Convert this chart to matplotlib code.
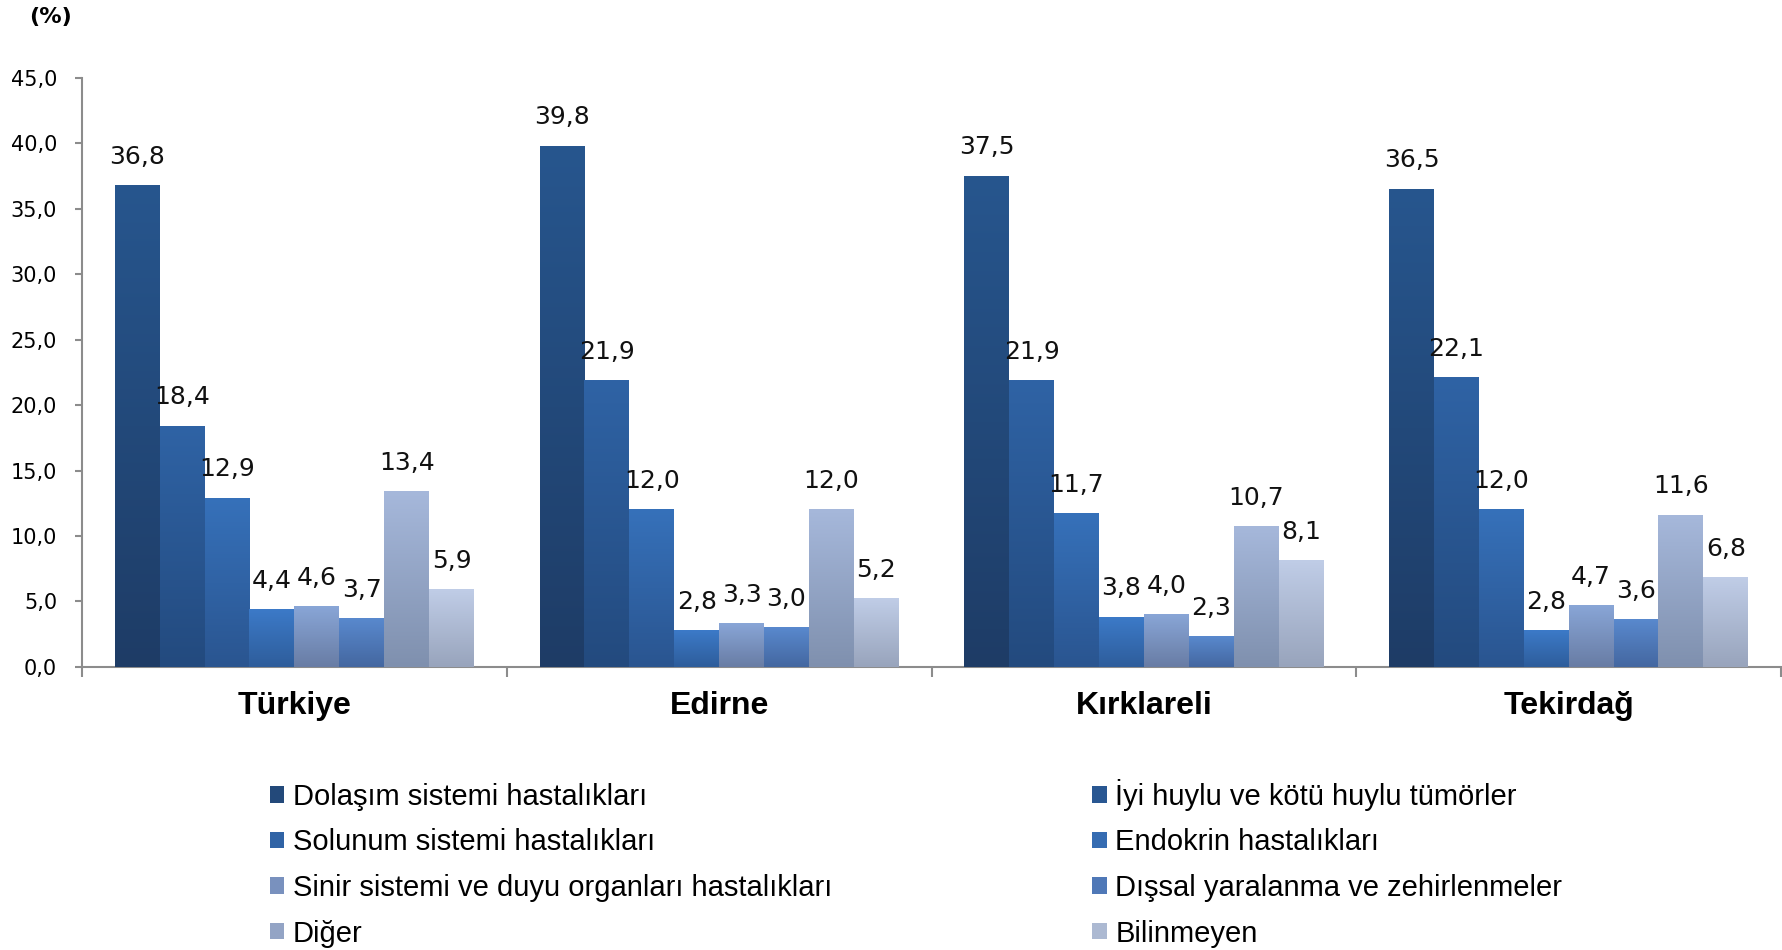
import numpy as np
import matplotlib
matplotlib.use("Agg")
import matplotlib.pyplot as plt
from matplotlib.colors import LinearSegmentedColormap
from matplotlib.ticker import FixedLocator, FuncFormatter

# data
regions = ["Türkiye", "Edirne", "Kırklareli", "Tekirdağ"]
series = [
    "Dolaşım sistemi hastalıkları",
    "İyi huylu ve kötü huylu tümörler",
    "Solunum sistemi hastalıkları",
    "Endokrin hastalıkları",
    "Sinir sistemi ve duyu organları hastalıkları",
    "Dışsal yaralanma ve zehirlenmeler",
    "Diğer",
    "Bilinmeyen",
]
dolasim = [36.8, 39.8, 37.5, 36.5]
tumor = [18.4, 21.9, 21.9, 22.1]
solunum = [12.9, 12.0, 11.7, 12.0]
endokrin = [4.4, 2.8, 3.8, 2.8]
sinir = [4.6, 3.3, 4.0, 4.7]
dissal = [3.7, 3.0, 2.3, 3.6]
diger = [13.4, 12.0, 10.7, 11.6]
bilinmeyen = [5.9, 5.2, 8.1, 6.8]
values = [dolasim, tumor, solunum, endokrin, sinir, dissal, diger, bilinmeyen]

# (bottom, top) gradient colours for each series
grad_colors = [
    ("#1e3c66", "#27568e"),
    ("#234a7e", "#2f63a5"),
    ("#2a5590", "#3671ba"),
    ("#2e5d9b", "#3c7ac8"),
    ("#687ca4", "#89a6d7"),
    ("#4467a0", "#5989ce"),
    ("#7f90ae", "#a6b8db"),
    ("#98a4bc", "#c0cde7"),
]

fig = plt.figure(figsize=(17.83, 9.5), dpi=100)
ax = fig.add_axes([0.046, 0.298, 0.9529, 0.620])

n = len(series)
w = 0.1057
x = np.arange(len(regions))
grad = np.linspace(0, 1, 256).reshape(-1, 1)

handles = []
for j, (name, vals) in enumerate(zip(series, values)):
    lo, hi = grad_colors[j]
    mid = LinearSegmentedColormap.from_list("m", [lo, hi])(0.5)
    cmap = LinearSegmentedColormap.from_list(f"g{j}", [lo, hi])
    pos = x + (j - (n - 1) / 2) * w
    bars = ax.bar(pos, vals, width=w, color=mid, zorder=2, label=name)
    handles.append(bars)
    for p, v in zip(bars.patches, vals):
        x0, wd, h = p.get_x(), p.get_width(), p.get_height()
        ax.imshow(grad, extent=[x0, x0 + wd, 0, h], origin="lower",
                  aspect="auto", cmap=cmap, zorder=3)
        ax.annotate(f"{v:.1f}".replace(".", ","), (x0 + wd / 2, h),
                    xytext=(0, 12), textcoords="offset points",
                    ha="center", va="bottom", fontsize=18,
                    family="DejaVu Sans", color="#111111")

ax.set_xlim(-0.5, len(regions) - 0.5)
ax.set_ylim(0, 45)

axis_gray = "#8c8c8c"
for s in ["top", "right"]:
    ax.spines[s].set_visible(False)
for s in ["left", "bottom"]:
    ax.spines[s].set_color(axis_gray)
    ax.spines[s].set_linewidth(1.5)

ax.set_yticks(np.arange(0, 46, 5))
ax.yaxis.set_major_formatter(FuncFormatter(lambda v, _: f"{v:.1f}".replace(".", ",")))
ax.tick_params(axis="y", length=5, width=1.5, color=axis_gray, labelsize=15, pad=13)

ax.xaxis.set_major_locator(FixedLocator(np.arange(-0.5, len(regions), 1.0)))
ax.xaxis.set_major_formatter(FuncFormatter(lambda v, _: ""))
ax.set_xticks(x, minor=True)
ax.set_xticklabels(regions, minor=True, fontsize=23, fontweight="bold",
                   family="Liberation Sans")
ax.tick_params(axis="x", which="major", length=7, width=1.5, color=axis_gray)
ax.tick_params(axis="x", which="minor", length=0, pad=17)

fig.text(0.0286, 0.982, "(%)", fontsize=16, fontweight="bold",
         ha="center", va="center", family="DejaVu Sans")

order = [0, 2, 4, 6, 1, 3, 5, 7]
fig.legend([handles[i] for i in order], [series[i] for i in order],
           ncol=2, loc="upper left", bbox_to_anchor=(0.1513, 0.180),
           frameon=False, prop={"family": "Liberation Sans", "size": 21},
           handlelength=0.5, handleheight=0.5, handletextpad=0.3,
           labelspacing=0.6, columnspacing=8.9, borderpad=0, borderaxespad=0)

fig.savefig("out.png", dpi=100)
